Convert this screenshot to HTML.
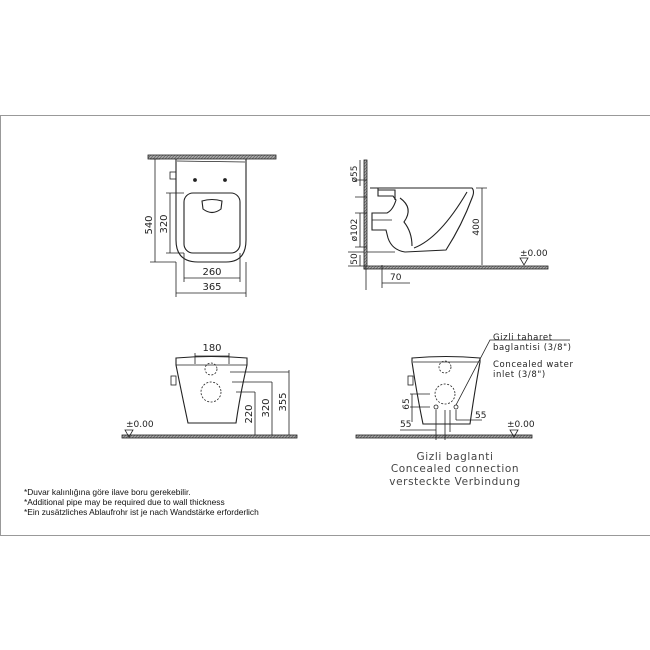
<!DOCTYPE html>
<html><head><meta charset="utf-8"><style>
body{margin:0;background:#fff;}
svg{display:block;font-family:"Liberation Sans",sans-serif;}
.d{font-family:"DejaVu Sans","Liberation Sans",sans-serif;font-size:10px;fill:#222;}
</style></head><body>
<svg width="650" height="650" viewBox="0 0 650 650" xmlns="http://www.w3.org/2000/svg">
<defs><pattern id="h" width="3" height="3" patternUnits="userSpaceOnUse"><rect width="3" height="3" fill="#aaa"/><path d="M0 3L3 0" stroke="#666" stroke-width="0.8"/></pattern></defs>
<rect x="0.5" y="115.5" width="660" height="420" fill="none" stroke="#999"/>
<g stroke="#222" fill="none" stroke-width="0.8">
<!-- plan view -->
<rect x="148" y="155" width="128" height="4" fill="url(#h)"/>
<g stroke-width="1.1">
<path d="M176 159 L176 240 Q176 262 198 262 L226 262 Q246 262 246 240 L246 159"/>
<rect x="184" y="193" width="56" height="60" rx="9"/>
<path d="M202 201 Q212 198 222 201 L221 209 Q212 216 203 209 Z"/>
</g>
<path d="M177 161 L245 162"/>
<rect x="170" y="172" width="6" height="7"/>
<circle cx="195" cy="180" r="1.5" fill="#222"/><circle cx="225" cy="180" r="1.5" fill="#222"/>
<path d="M155 159 V262 M150 159 H160 M150 262 H176 M170 193 V253 M166 193 H184 M166 253 H184 M184 253 V282 M240 253 V282 M184 278 H240 M176 262 V297 M246 262 V297 M176 293 H246"/>
<!-- side view -->
<rect x="364" y="160" width="3" height="109" fill="url(#h)"/>
<rect x="364" y="266" width="184" height="3" fill="url(#h)"/>
<g stroke-width="1.1">
<path d="M370 188 H472 Q475 191 472 198 Q462 225 446 250 L405 252 Q392 250 388 238 L386 230 L372 230 L372 213 L387 213 Q393 210 396 200 L393 196 L378 196 L378 188"/>
<path d="M400 198 Q414 208 404 222 Q412 232 412 246"/>
<path d="M414 248 Q440 238 467 192"/>
<path d="M378 190 H395 V200"/>
</g>
<path d="M482 188 V265 M476 188 H487 M367 252 H395 M382 265 V288 M355 180 H367 M355 197 H367 M355 213 H367 M355 247 H367 M360 160 V186 M360 213 V247 M360 255 V266 M348 252 H364 M348 266 H364 M366 266 V290 M382 283 H410 M372 220 H392" />
<path d="M520 258 L528 258 L524 265 Z"/>
<!-- front left -->
<rect x="122" y="435" width="175" height="3" fill="url(#h)"/>
<path stroke-width="1.1" d="M176 358 Q211 355 247 358 L247 365 Q240 395 236 423 L188 423 Q182 395 176 365 Z"/>
<path d="M176 365 H247"/>
<rect x="171" y="376" width="5" height="9"/>
<circle cx="211" cy="369" r="6" stroke-dasharray="2,1.5"/>
<circle cx="211" cy="392" r="10" stroke-dasharray="2,1.5"/>
<path d="M195 353 V364 M229 353 V364 M195 356 H229 M230 372 H289 M232 382 H272 M236 392 H255 M289 370 V435 M272 382 V435 M255 392 V435"/>
<path d="M125 430 L133 430 L129 437 Z"/>
<!-- front right -->
<rect x="356" y="435" width="176" height="3" fill="url(#h)"/>
<path stroke-width="1.1" d="M412 358 Q446 355 480 358 L480 362 Q474 395 470 424 L423 424 Q417 395 412 362 Z"/>
<path d="M413 362 H479"/>
<rect x="408" y="376" width="5" height="9"/>
<circle cx="445" cy="367" r="6" stroke-dasharray="2,1.5"/>
<circle cx="445" cy="394" r="10" stroke-dasharray="2,1.5"/>
<circle cx="436" cy="407" r="2"/><circle cx="456" cy="407" r="2"/>
<path d="M456 405 L490 340 H570 M410 394 H430 M410 407 H430 M412 394 V422 M436 410 V440 M445 410 V440 M450 410 V432 M456 410 V420 M400 430 H436 M456 420 H482"/>
<path d="M510 430 L518 430 L514 437 Z"/>
</g>
<g class="d">
<text x="152" y="225" transform="rotate(-90 152 225)" text-anchor="middle">540</text>
<text x="167" y="224" transform="rotate(-90 167 224)" text-anchor="middle">320</text>
<text x="212" y="275" text-anchor="middle">260</text>
<text x="212" y="290" text-anchor="middle">365</text>
<text x="357" y="174" transform="rotate(-90 357 174)" text-anchor="middle" font-size="9">ø55</text>
<text x="357" y="230" transform="rotate(-90 357 230)" text-anchor="middle" font-size="9">ø102</text>
<text x="357" y="259" transform="rotate(-90 357 259)" text-anchor="middle" font-size="9">50</text>
<text x="390" y="280" font-size="9">70</text>
<text x="479" y="227" transform="rotate(-90 479 227)" text-anchor="middle" font-size="9">400</text>
<text x="520" y="256" font-size="9">±0.00</text>
<text x="212" y="351" text-anchor="middle">180</text>
<text x="286" y="402" transform="rotate(-90 286 402)" text-anchor="middle">355</text>
<text x="269" y="408" transform="rotate(-90 269 408)" text-anchor="middle">320</text>
<text x="252" y="414" transform="rotate(-90 252 414)" text-anchor="middle">220</text>
<text x="126" y="427" font-size="9">±0.00</text>
<text x="409" y="404" transform="rotate(-90 409 404)" text-anchor="middle" font-size="9">65</text>
<text x="400" y="427" font-size="9">55</text>
<text x="475" y="418" font-size="9">55</text>
<text x="507" y="427" font-size="9">±0.00</text>
<text x="493" y="340" font-size="8.5" letter-spacing="0.6">Gizli taharet</text>
<text x="493" y="350" font-size="8.5" letter-spacing="0.6">baglantisi (3/8")</text>
<text x="493" y="367" font-size="8.5" letter-spacing="0.6">Concealed water</text>
<text x="493" y="377" font-size="8.5" letter-spacing="0.6">inlet (3/8")</text>
<text x="455" y="460" text-anchor="middle" font-size="10.5" fill="#444" letter-spacing="0.6">Gizli baglanti</text>
<text x="455" y="472" text-anchor="middle" font-size="10.5" fill="#444" letter-spacing="0.6">Concealed connection</text>
<text x="455" y="485" text-anchor="middle" font-size="10.5" fill="#444" letter-spacing="0.6">versteckte Verbindung</text>
</g>
<g font-size="8.4" fill="#111">
<text x="24" y="495">*Duvar kalınlığına göre ilave boru gerekebilir.</text>
<text x="24" y="505">*Additional pipe may be required due to wall thickness</text>
<text x="24" y="515">*Ein zusätzliches Ablaufrohr ist je nach Wandstärke erforderlich</text>
</g>
</svg>
</body></html>
